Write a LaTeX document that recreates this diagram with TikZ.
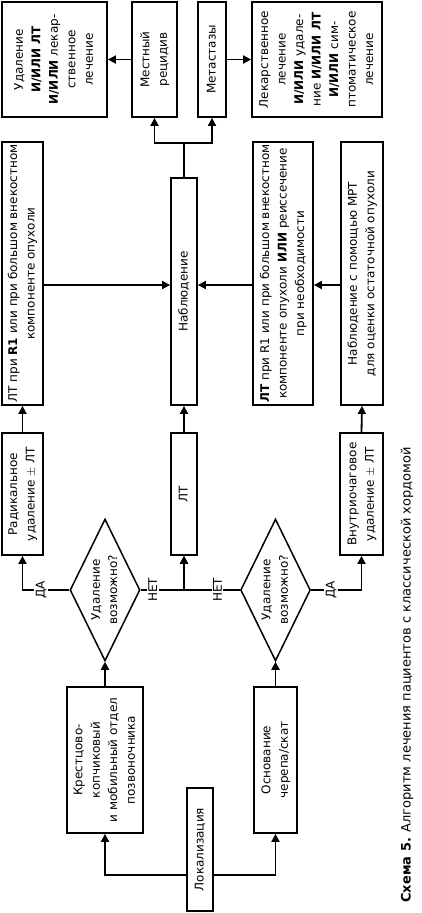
\documentclass[tikz,border=0pt]{standalone}
\usepackage{fontspec}
\setmainfont{DejaVu Sans}
\usetikzlibrary{shapes.geometric,arrows.meta}
\newcommand\rtxt[1]{\rotatebox{90}{\begin{tabular}{@{}c@{}}#1\end{tabular}}}
\begin{document}
\begin{tikzpicture}[x=1pt,y=-1pt,
  box/.style={draw, line width=1.8pt, inner sep=0pt, font=\fontsize{12}{17.5}\selectfont},
  dia/.style={draw, diamond, aspect=0.5, line width=1.5pt, inner sep=0pt, font=\fontsize{12}{17.5}\selectfont},
  arr/.style={line width=1.8pt, -{Triangle[length=8pt,width=8pt]}},
  ln/.style={line width=1.8pt},
  lbl/.style={fill=white, rotate=90, inner sep=1.5pt, font=\fontsize{12}{14}\selectfont}]
\useasboundingbox (0,0) rectangle (422,913);
% top row
\node[box, minimum width=105, minimum height=115] (a) at (54.5,59.5) {\rtxt{Удаление\\\textbf{И/ИЛИ ЛТ}\\\textbf{И/ИЛИ} лекар-\\ственное\\лечение}};
\node[box, minimum width=45, minimum height=115] (mr) at (154.5,59.5) {\rtxt{Местный\\рецидив}};
\node[box, minimum width=28, minimum height=115] (met) at (212,59.5) {\rtxt{Метастазы}};
\node[box, minimum width=130, minimum height=115] (r) at (317,59.5) {\rtxt{Лекарственное\\лечение\\\textbf{И/ИЛИ} удале-\\ние \textbf{И/ИЛИ ЛТ}\\\textbf{И/ИЛИ} сим-\\птоматическое\\лечение}};
% second row
\node[box, minimum width=41, minimum height=263] (b) at (22.5,273.5) {\rtxt{ЛТ при \textbf{R1} или при большом внекостном\\компоненте опухоли}};
\node[box, minimum width=26, minimum height=227] (n) at (184,291.5) {\rtxt{Наблюдение}};
\node[box, minimum width=60, minimum height=263] (c) at (283,273.5) {\rtxt{\textbf{ЛТ} при R1 или при большом внекостном\\компоненте опухоли \textbf{ИЛИ} реиссечение\\при необходимости}};
\node[box, minimum width=42, minimum height=263] (d) at (362,273.5) {\rtxt{Наблюдение с помощью МРТ\\для оценки остаточной опухоли}};
% third row
\node[box, minimum width=41, minimum height=122] (rad) at (22.5,494) {\rtxt{Радикальное\\удаление $\pm$ ЛТ}};
\node[box, minimum width=26, minimum height=122] (lt) at (184,494) {\rtxt{ЛТ}};
\node[box, minimum width=43, minimum height=122] (vn) at (361.5,494) {\rtxt{Внутриочаговое\\удаление $\pm$ ЛТ}};
% diamonds
\node[dia, minimum width=70, minimum height=142] (d1) at (105,590) {\rtxt{Удаление\\возможно?}};
\node[dia, minimum width=67, minimum height=142] (d2) at (275.5,590) {\rtxt{Удаление\\возможно?}};
% bottom row
\node[box, minimum width=76, minimum height=146] (kr) at (105,760) {\rtxt{Крестцово-\\копчиковый\\и мобильный отдел\\позвоночника}};
\node[box, minimum width=43, minimum height=146] (os) at (275.5,760) {\rtxt{Основание\\черепа/скат}};
\node[box, minimum width=26, minimum height=123] (lok) at (200,849.5) {\rtxt{Локализация}};
% caption
\node[rotate=90, inner sep=0pt, font=\fontsize{13}{15}\selectfont] (cap) at (407,675) {\textbf{Схема 5.} Алгоритм лечения пациентов с классической хордомой};
% connectors
\coordinate (mid) at (0,285);
\coordinate (br) at (184,143);
\draw[arr] (mr.west) -- (a.east);
\draw[arr] (met.east) -- (r.west);
\draw[ln] (n.north) -- (br);
\draw[arr] (br) -| (mr.south);
\draw[arr] (br) -| (met.south);
\draw[arr] (b.east |- mid) -- (n.west |- mid);
\draw[arr] (c.west |- mid) -- (n.east |- mid);
\draw[arr] (d.west |- mid) -- (c.east |- mid);
\draw[arr] (rad.north) -- (b.south);
\draw[arr] (lt.north) -- (n.south);
\draw[arr] (vn.north) -- (d.south);
\draw[arr] (d1.west) -| node[lbl, pos=0.3] {ДА} (rad.south);
\draw[arr] (d1.east) -| node[lbl, pos=0.14] {НЕТ} (lt.south);
\draw[arr] (d2.west) -| node[lbl, pos=0.2] {НЕТ} (lt.south);
\draw[arr] (d2.east) -| node[lbl, pos=0.2] {ДА} (vn.south);
\draw[arr] (kr.north) -- (d1.south);
\draw[arr] (os.north) -- (d2.south);
\draw[arr] ([yshift=-25.5pt]lok.west) -| (kr.south);
\draw[arr] ([yshift=-25.5pt]lok.east) -| (os.south);
\end{tikzpicture}
\end{document}
